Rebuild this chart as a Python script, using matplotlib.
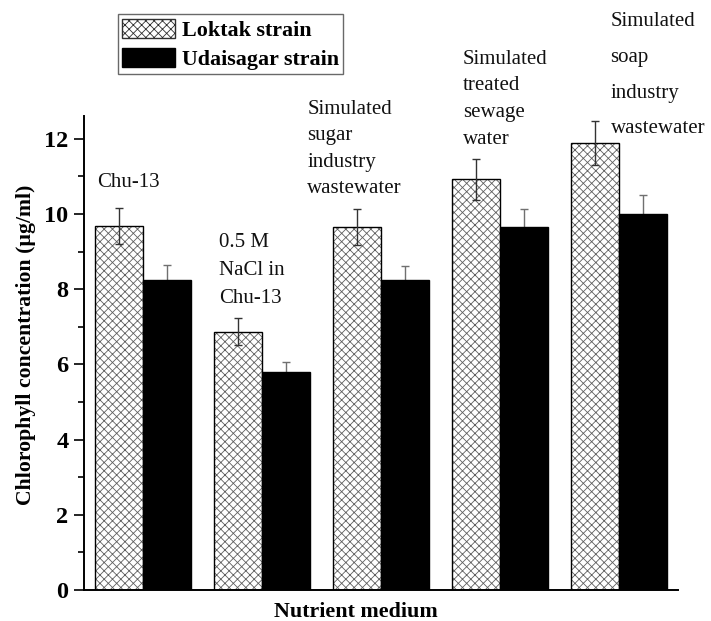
import numpy as np
import matplotlib
matplotlib.use("Agg")
import matplotlib.pyplot as plt
import matplotlib.patches as mpatches

plt.rcParams['font.family'] = ['Liberation Serif', 'DejaVu Serif']
plt.rcParams['hatch.linewidth'] = 0.6

# chlorophyll data
media = ['Chu-13', '0.5 M\nNaCl in\nChu-13', 'Simulated\nsugar\nindustry\nwastewater',
         'Simulated\ntreated\nsewage\nwater', 'Simulated\nsoap\nindustry\nwastewater']
loktak = [9.68, 6.87, 9.66, 10.92, 11.88]
loktak_err = [0.49, 0.35, 0.48, 0.54, 0.58]
udaisagar = [8.24, 5.79, 8.23, 9.66, 10.00]
udaisagar_err = [0.40, 0.27, 0.39, 0.47, 0.49]

# where the group labels sit (data coords, top-left of text) and their line spacing
label_x = [-0.39, 0.64, 1.38, 2.69, 3.93]
label_y = [11.08, 9.50, 13.02, 14.37, 15.37]
label_spacing = [1.2, 1.67, 1.51, 1.56, 2.2]

fig = plt.figure(figsize=(7.11, 6.21), dpi=100)
ax = fig.add_axes([0.118, 0.050, 0.836, 0.763])

x = np.arange(len(media))
w = 0.405

# hatched bars: hatch in grey, then outline in black
ax.bar(x - w / 2, loktak, w, color='white', edgecolor='#606060', hatch='xxxx', linewidth=0, zorder=2)
ax.bar(x - w / 2, loktak, w, fill=False, edgecolor='black', linewidth=1.0, zorder=2)
ax.bar(x + w / 2, udaisagar, w, color='black', edgecolor='black', linewidth=1.0, zorder=2)

# loktak error bars show over the hatch, udaisagar ones are hidden below the black bar
ax.errorbar(x - w / 2, loktak, yerr=loktak_err, fmt='none', ecolor='#333333',
            elinewidth=1.0, capsize=3, capthick=1.0, zorder=3)
ax.errorbar(x + w / 2, udaisagar, yerr=udaisagar_err, fmt='none', ecolor='#707070',
            elinewidth=1.0, capsize=3, capthick=1.0, zorder=1.5)

for lab, lx, ly, ls in zip(media, label_x, label_y, label_spacing):
    ax.text(lx, ly, lab, ha='left', va='top', fontsize=15, linespacing=ls,
            color='#111111', clip_on=False)

ax.set_xlim(-0.5, 4.5)
ax.set_ylim(0, 12.6)
ax.set_yticks(np.arange(0, 13, 2))
ax.set_yticks(np.arange(1, 13, 2), minor=True)
ax.set_xticks([])
ax.tick_params(axis='y', which='major', direction='out', length=7, width=1.2,
               labelsize=17.5, pad=4)
ax.tick_params(axis='y', which='minor', direction='out', length=4, width=1.2)
for t in ax.get_yticklabels():
    t.set_fontweight('bold')

ax.spines['top'].set_visible(False)
ax.spines['right'].set_visible(False)
ax.spines['left'].set_linewidth(1.4)
ax.spines['bottom'].set_linewidth(1.4)
ax.spines['bottom'].set_zorder(4)

ax.set_ylabel('Chlorophyll concentration (µg/ml)', fontsize=15.7, fontweight='bold',
              labelpad=6, y=0.517)
ax.set_xlabel('Nutrient medium', fontsize=15.8, fontweight='bold', labelpad=9, x=0.458)

h1 = mpatches.Patch(facecolor='white', edgecolor='#303030', hatch='xxxx', linewidth=1.0)
h2 = mpatches.Patch(facecolor='black', edgecolor='black')
fig.legend([h1, h2], ['Loktak strain', 'Udaisagar strain'], loc='upper left',
           bbox_to_anchor=(0.166, 0.977), frameon=True, fancybox=False, edgecolor='#444444',
           prop={'weight': 'bold', 'size': 15.8}, handlelength=2.4, handleheight=1.0,
           handletextpad=0.3, borderpad=0.2, labelspacing=0.3, borderaxespad=0)

fig.savefig('out.png', dpi=100)
